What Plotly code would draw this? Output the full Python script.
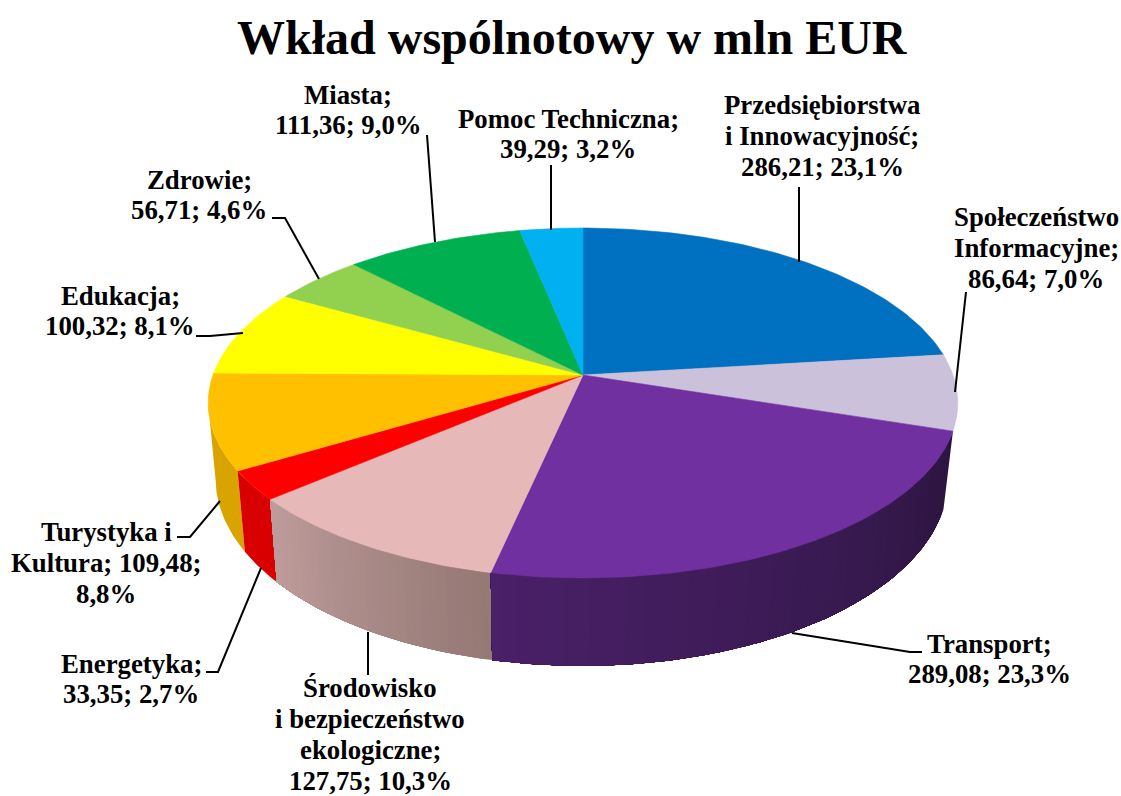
import math
import plotly.graph_objects as go

# ---- data ----
categories = ["Przedsiębiorstwa<br>i Innowacyjność;", "Społeczeństwo<br>Informacyjne;", "Transport;",
              "Środowisko<br>i bezpieczeństwo<br>ekologiczne;", "Energetyka;", "Turystyka i<br>Kultura;",
              "Edukacja;", "Zdrowie;", "Miasta;", "Pomoc Techniczna;"]
values = [286.21, 86.64, 289.08, 127.75, 33.35, 109.48, 100.32, 56.71, 111.36, 39.29]
value_text = ["286,21; 23,1%", "86,64; 7,0%", "289,08; 23,3%", "127,75; 10,3%", "33,35; 2,7%",
              "109,48;<br>8,8%", "100,32; 8,1%", "56,71; 4,6%", "111,36; 9,0%", "39,29; 3,2%"]
title_text = "Wkład wspólnotowy w mln EUR"

# ---- styles ----
top_colors = ["#0070C0", "#CCC1DA", "#7030A0", "#E6B9B8", "#FF0000", "#FFC000", "#FFFF00", "#92D050", "#00B050", "#00B0F0"]
wall_left = {2: (0x4A, 0x20, 0x68), 3: (0xBE, 0x9C, 0x9B), 4: (0xD8, 0x00, 0x00), 5: (0xD9, 0xA4, 0x00)}
wall_right = {2: (0x2C, 0x15, 0x40), 3: (0x94, 0x78, 0x74), 4: (0xD8, 0x00, 0x00), 5: (0xD9, 0xA4, 0x00)}
strips = {2: 70, 3: 30, 4: 1, 5: 1}
label_pos = [(822, 136), (1036, 248), (989, 659), (370, 734.5), (131, 679), (106, 563), (120, 311), (199, 195), (348, 110), (568, 134)]
LINE_GAP = 30.8
leaders = [[(799, 262), (799, 187)],
           [(955, 392), (966, 292)],
           [(792, 633), (910, 652), (922, 652)],
           [(368, 632), (368, 675)],
           [(261, 568), (218, 672), (206, 672)],
           [(220, 501), (190, 537), (177, 537)],
           [(243, 333), (210, 336), (196, 336)],
           [(319, 279), (285, 218), (272, 218)],
           [(435, 242), (427, 135)],
           [(551, 230), (551, 165)]]
FONT = "Liberation Serif, Times New Roman, serif"

# projection of the pie discs (perspective look)
TOP = dict(x0=583, y0=375, a=370, b=170.5, k=0.16)
BOT = dict(x0=582, y0=449, a=362, b=183, k=0.156)


def proj(d, ang):
    u, v = math.sin(ang), math.cos(ang)
    den = 1 + d["k"] * v
    return d["x0"] + d["a"] * u / den, d["y0"] - d["b"] * v / den


total = sum(values)
cum = [0]
for val in values:
    cum.append(cum[-1] + val)
angles = [2 * math.pi * c / total for c in cum]

# the wall is visible only up to the left silhouette of the disc
wall_end = 2 * math.pi - math.acos(-TOP["k"])

fig = go.Figure()


def poly(xs, ys, color, lw=0.6):
    fig.add_trace(go.Scatter(x=xs, y=ys, mode="lines", fill="toself", fillcolor=color,
                             line=dict(color=color, width=lw), hoverinfo="skip", showlegend=False))


# walls: each gradient step is painted over the rest of its slice, so no seams appear
for i in [5, 4, 3, 2]:
    n = strips[i]
    a0, a1 = angles[i], min(angles[i + 1], wall_end)
    for j in range(n):
        t0 = j / n
        m = (j + 0.5) / n
        s0 = a0 + (a1 - a0) * t0
        r, g, b = (wall_right[i][c] + (wall_left[i][c] - wall_right[i][c]) * m for c in range(3))
        col = f"rgb({r:.0f},{g:.0f},{b:.0f})"
        sub = max(40, n - j)
        pts = [s0 + (a1 - s0) * q / sub for q in range(sub + 1)]
        tp = [proj(TOP, p) for p in pts]
        bp = [proj(BOT, p) for p in reversed(pts)]
        poly([p[0] for p in tp + bp] + [tp[0][0]], [p[1] for p in tp + bp] + [tp[0][1]], col, lw=0)

# top face
for i, col in enumerate(top_colors):
    a0, a1 = angles[i], angles[i + 1]
    n = max(4, int((a1 - a0) * 60))
    arc = [proj(TOP, a0 + (a1 - a0) * q / n) for q in range(n + 1)]
    cx, cy = TOP["x0"], TOP["y0"]
    poly([cx] + [p[0] for p in arc] + [cx], [cy] + [p[1] for p in arc] + [cy], col)

# leader lines
for pts in leaders:
    fig.add_trace(go.Scatter(x=[p[0] for p in pts], y=[p[1] for p in pts], mode="lines",
                             line=dict(color="black", width=2), hoverinfo="skip", showlegend=False))

# labels: one annotation per line, to keep the tight line spacing of the reference
annotations = []
for name, txt, (lx, ly) in zip(categories, value_text, label_pos):
    sep = "<br>" if name != "Turystyka i<br>Kultura;" else " "
    lines = (name + sep + txt).split("<br>")
    for q, line in enumerate(lines):
        annotations.append(dict(x=lx, y=ly + (q - (len(lines) - 1) / 2) * LINE_GAP, text=f"<b>{line}</b>",
                                showarrow=False, xref="x", yref="y", xanchor="center", yanchor="middle",
                                font=dict(family=FONT, size=26.8, color="black")))
annotations.append(dict(x=572, y=37, text=f"<b>{title_text}</b>", showarrow=False, xref="x", yref="y",
                        xanchor="center", yanchor="middle",
                        font=dict(family=FONT, size=48, color="black")))

fig.update_layout(width=1121, height=796, margin=dict(l=0, r=0, t=0, b=0), autosize=False,
                  paper_bgcolor="white", plot_bgcolor="white", showlegend=False, annotations=annotations,
                  xaxis=dict(range=[0, 1121], visible=False, fixedrange=True),
                  yaxis=dict(range=[796, 0], visible=False, fixedrange=True))
fig.write_html("out.html", config={"displayModeBar": False},
               post_script="document.body.style.margin='0';document.body.style.overflow='hidden';")
